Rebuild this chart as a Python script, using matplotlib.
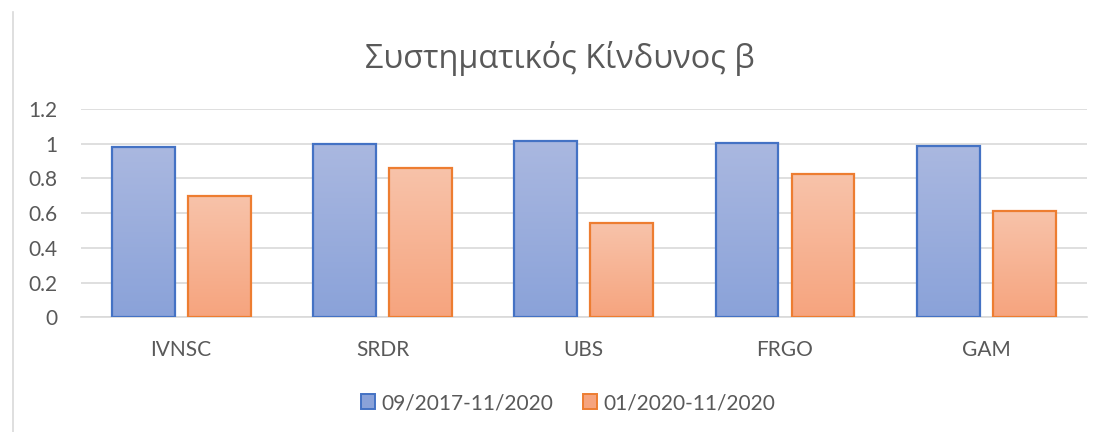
import matplotlib
matplotlib.use("Agg")
import matplotlib.pyplot as plt
import numpy as np
from matplotlib.lines import Line2D
from matplotlib.patches import Patch
from matplotlib.colors import LinearSegmentedColormap

categories = ["IVNSC", "SRDR", "UBS", "FRGO", "GAM"]
series_names = ["09/2017-11/2020", "01/2020-11/2020"]
beta_full = [0.98, 1.00, 1.014, 1.006, 0.988]
beta_covid = [0.70, 0.862, 0.541, 0.825, 0.614]
yticks = [0, 0.2, 0.4, 0.6, 0.8, 1.0, 1.2]
ytick_labels = ["0", "0.2", "0.4", "0.6", "0.8", "1", "1.2"]
title = "Συστηματικός Κίνδυνος β"

FONT = ["Lato", "Open Sans", "DejaVu Sans"]
plt.rcParams['font.family'] = FONT
GRAY = "#595959"

fig = plt.figure(figsize=(11.04, 4.32), dpi=100)
ax = fig.add_axes([80.5/1104, 1 - 317.3/432, (1087 - 80.5)/1104, (317.3 - 109)/432])

x = np.arange(len(categories))
w = 0.312
off = 0.189

styles = [
    dict(top="#aab8e0", bot="#8aa2d9", edge="#4472c4"),
    dict(top="#f8c3aa", bot="#f6a47e", edge="#ed7d31"),
]

for vals, sign, st in [(beta_full, -1, styles[0]), (beta_covid, 1, styles[1])]:
    bars = ax.bar(x + sign * off, vals, width=w, facecolor="none",
                  edgecolor=st["edge"], linewidth=1.6, zorder=3)
    cmap = LinearSegmentedColormap.from_list("g", [st["bot"], st["top"]])
    grad = np.linspace(0, 1, 256).reshape(-1, 1)
    for b in bars:
        bx, by = b.get_x(), b.get_y()
        bw, bh = b.get_width(), b.get_height()
        im = ax.imshow(grad, extent=[bx, bx + bw, by, by + bh], origin="lower",
                       aspect="auto", cmap=cmap, zorder=2.5)
        im.set_clip_path(b)

ax.set_xlim(-0.5, len(categories) - 0.5)
ax.set_ylim(0, 1.2)
ax.set_yticks(yticks)
ax.set_yticklabels(ytick_labels)
ax.set_xticks(x)
ax.set_xticklabels(categories)
ax.tick_params(axis="both", length=0, colors=GRAY, labelsize=15)
ax.tick_params(axis="y", pad=16.5)
ax.tick_params(axis="x", pad=16)
ax.grid(axis="y", color="#d9d9d9", linewidth=1.2, zorder=0)
ax.set_axisbelow(True)
for s in ["top", "right", "left"]:
    ax.spines[s].set_visible(False)
ax.spines["bottom"].set_color("#d9d9d9")
ax.spines["bottom"].set_linewidth(1.2)

fig.text(560 / 1104, 1 - 58 / 432, title, ha="center", va="center",
         fontsize=23.4, color=GRAY, family=["Open Sans", "DejaVu Sans"])

handles = [Patch(facecolor=styles[i]["bot"], edgecolor=styles[i]["edge"], linewidth=1.4)
           for i in range(2)]
leg = fig.legend(handles, series_names, loc="center", bbox_to_anchor=(568 / 1104, 1 - 403 / 432),
                 ncol=2, frameon=False, fontsize=15, handlelength=0.7, handleheight=0.7,
                 handletextpad=0.3, columnspacing=1.4, labelcolor=GRAY)

fig.add_artist(Line2D([12.5 / 1104, 12.5 / 1104], [0, 1 - 12 / 432], transform=fig.transFigure,
                      color="#d9d9d9", linewidth=1.2))

fig.savefig("out.png", dpi=100)
